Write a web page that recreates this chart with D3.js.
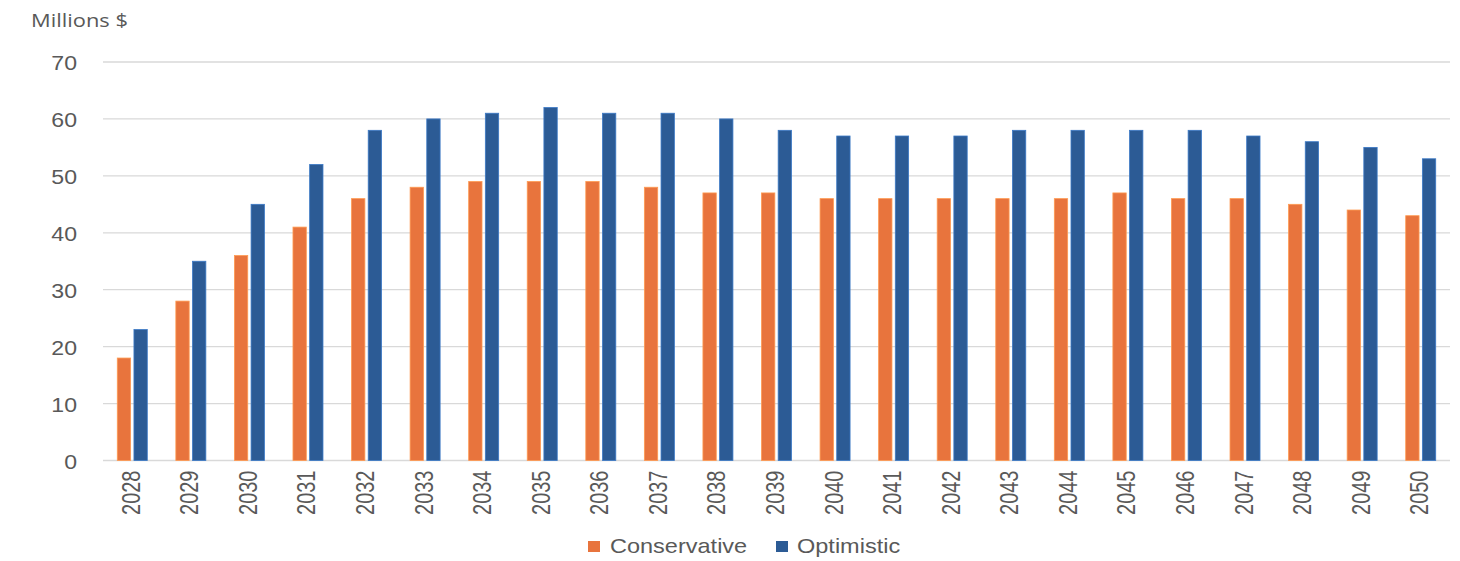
<!DOCTYPE html>
<html>
<head>
<meta charset="utf-8">
<script src="https://cdn.jsdelivr.net/npm/d3@7"></script>
<style>
  html, body { margin: 0; padding: 0; background: #fff; }
  svg { display: block; }
</style>
</head>
<body>
<svg id="chart" width="1460" height="561"></svg>
<script>
const years = ["2028","2029","2030","2031","2032","2033","2034","2035","2036","2037","2038","2039","2040","2041","2042","2043","2044","2045","2046","2047","2048","2049","2050"];
const conservative = [18, 28, 36, 41, 46, 48, 49, 49, 49, 48, 47, 47, 46, 46, 46, 46, 46, 47, 46, 46, 45, 44, 43];
const optimistic   = [23, 35, 45, 52, 58, 60, 61, 62, 61, 61, 60, 58, 57, 57, 57, 58, 58, 58, 58, 57, 56, 55, 53];
const seriesNames = ["Conservative", "Optimistic"];
const seriesColors = ["#E8743D", "#2C5B95"];
const yTicks = [0, 10, 20, 30, 40, 50, 60, 70];
const yTitle = "Millions $";

(function () {
const svg = d3.select("#chart");
const plotLeft = 103, plotRight = 1450, plotTop = 62, plotBottom = 460.5;
const textColor = "#595959";
const gridColor = "#d9d9d9";

const x = d3.scaleBand().domain(years).range([plotLeft, plotRight]).paddingInner(0).paddingOuter(0);
const groupW = 30;
const x1 = d3.scaleBand().domain(seriesNames).range([0, groupW]).paddingInner(0.2);
const y = d3.scaleLinear().domain([0, 70]).range([plotBottom, plotTop]);

// gridlines
svg.append("g").selectAll("line").data(yTicks).join("line")
  .attr("x1", plotLeft).attr("x2", plotRight)
  .attr("y1", d => y(d)).attr("y2", d => y(d))
  .attr("stroke", gridColor).attr("stroke-width", 1.3);

// y axis labels
const yAxis = d3.axisLeft(y).tickValues(yTicks).tickSize(0).tickPadding(0);
const gy = svg.append("g").attr("transform", `translate(77,0)`).call(yAxis);
gy.select(".domain").remove();
gy.selectAll("text")
  .attr("font-family", "'Liberation Sans', Arial, sans-serif")
  .attr("font-size", 21).attr("fill", textColor).attr("dy", "0.36em")
  .attr("transform", "scale(1.1,1)");

// y title
svg.append("text").attr("x", 31).attr("y", 27)
  .attr("font-family", "'Open Sans', 'Noto Sans', sans-serif")
  .attr("font-size", 19).attr("font-weight", 500)
  .attr("textLength", 97).attr("lengthAdjust", "spacingAndGlyphs")
  .attr("fill", textColor).text(yTitle);

// bars
const data = years.map((yr, i) => ({ year: yr, values: [conservative[i], optimistic[i]] }));
const groups = svg.append("g").selectAll("g").data(data).join("g")
  .attr("transform", d => `translate(${x(d.year) + x.bandwidth() / 2 - groupW / 2},0)`);
groups.selectAll("rect").data(d => d.values.map((v, k) => ({ name: seriesNames[k], v, k })))
  .join("rect")
  .attr("x", d => x1(d.name))
  .attr("width", x1.bandwidth())
  .attr("y", d => y(d.v))
  .attr("height", d => y(0) - y(d.v))
  .attr("fill", d => seriesColors[d.k])
  .attr("stroke", d => d3.color(seriesColors[d.k]).brighter(0.8))
  .attr("stroke-width", 0.8);

// x axis labels (rotated)
const xAxis = d3.axisBottom(x).tickSize(0).tickPadding(0);
const gx = svg.append("g").attr("transform", `translate(0,${plotBottom})`).call(xAxis);
gx.select(".domain").remove();
gx.selectAll(".tick text")
  .attr("font-family", "'Liberation Sans', Arial, sans-serif")
  .attr("font-size", 20).attr("fill", textColor)
  .attr("text-anchor", "end")
  .attr("x", 0).attr("y", 0).attr("dy", 0)
  .attr("transform", "translate(7.5,10) rotate(-90) scale(1,1.3)");

// legend
const legend = svg.append("g");
const legendItems = [
  { name: seriesNames[0], color: seriesColors[0], sx: 588, tx: 610 },
  { name: seriesNames[1], color: seriesColors[1], sx: 776, tx: 797 }
];
legend.selectAll("rect").data(legendItems).join("rect")
  .attr("x", d => d.sx).attr("y", 541).attr("width", 12).attr("height", 11)
  .attr("fill", d => d.color);
legend.selectAll("text").data(legendItems).join("text")
  .attr("transform", d => `translate(${d.tx},553) scale(1.12,1)`)
  .attr("font-family", "'Liberation Sans', Arial, sans-serif")
  .attr("font-size", 21).attr("fill", textColor)
  .text(d => d.name);
})();
</script>
</body>
</html>
